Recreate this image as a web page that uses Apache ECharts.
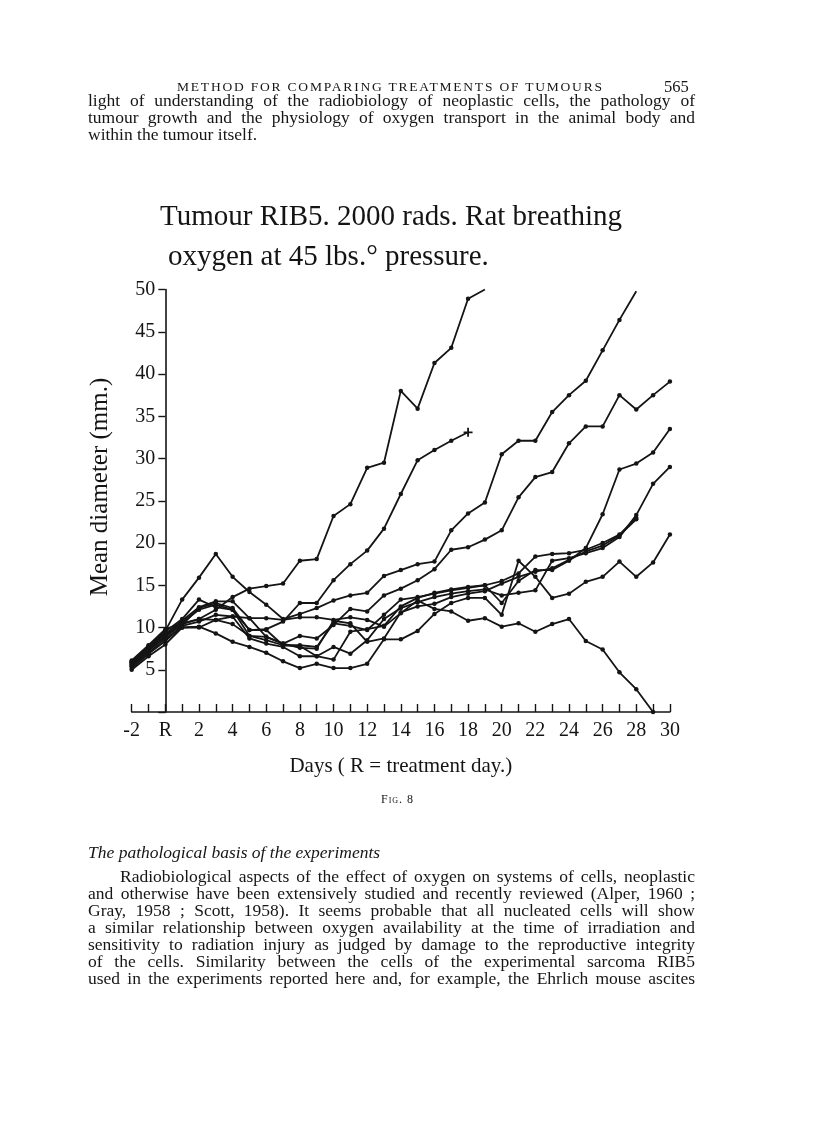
<!DOCTYPE html>
<html>
<head>
<meta charset="utf-8">
<script src="https://cdn.jsdelivr.net/npm/echarts@6/dist/echarts.min.js"></script>
<style>
  html,body{margin:0;padding:0;background:#fff;}
  #page{position:relative;width:816px;height:1136px;overflow:hidden;background:#fff;}
  #chart{position:absolute;left:0;top:0;width:816px;height:1136px;}
  .t{position:absolute;font-family:"Liberation Serif",serif;color:#161616;z-index:2;pointer-events:none;}
  .ln{font-size:17.5px;line-height:17px;text-align:justify;text-align-last:justify;}
</style>
</head>
<body>
<div id="page">
  <div id="chart"></div>
  <div class="t" style="left:177px;top:79px;font-size:13.5px;letter-spacing:1.8px;">METHOD FOR COMPARING TREATMENTS OF TUMOURS</div>
  <div class="t" style="left:664px;top:77px;font-size:16.5px;">565</div>
  <div class="t ln" style="left:88px;top:92px;width:607px;">light of understanding of the radiobiology of neoplastic cells, the pathology of</div>
  <div class="t ln" style="left:88px;top:109px;width:607px;">tumour growth and the physiology of oxygen transport in the animal body and</div>
  <div class="t" style="left:88px;top:126px;font-size:17.5px;line-height:17px;">within the tumour itself.</div>
  <div class="t" style="left:381px;top:792px;font-size:12px;font-variant:small-caps;letter-spacing:1px;">Fig. 8</div>
  <div class="t" style="left:88px;top:844px;font-size:17.5px;line-height:17px;font-style:italic;">The pathological basis of the experiments</div>
  <div class="t ln" style="left:120px;top:868px;width:575px;">Radiobiological aspects of the effect of oxygen on systems of cells, neoplastic</div>
  <div class="t ln" style="left:88px;top:885px;width:607px;">and otherwise have been extensively studied and recently reviewed (Alper, 1960 ;</div>
  <div class="t ln" style="left:88px;top:902px;width:607px;">Gray, 1958 ; Scott, 1958). It seems probable that all nucleated cells will show</div>
  <div class="t ln" style="left:88px;top:919px;width:607px;">a similar relationship between oxygen availability at the time of irradiation and</div>
  <div class="t ln" style="left:88px;top:936px;width:607px;">sensitivity to radiation injury as judged by damage to the reproductive integrity</div>
  <div class="t ln" style="left:88px;top:953px;width:607px;">of the cells. Similarity between the cells of the experimental sarcoma RIB5</div>
  <div class="t ln" style="left:88px;top:970px;width:607px;">used in the experiments reported here and, for example, the Ehrlich mouse ascites</div>
</div>
<script>
// ---- data (mean tumour diameter, mm; days -2 .. 30, R = day 0) ----
const days = [-2,-1,0,1,2,3,4,5,6,7,8,9,10,11,12,13,14,15,16,17,18,19,20,21,22,23,24,25,26,27,28,29,30];
const tumourA = [5.8,7.6,9.3,10.4,11.0,12.1,13.6,14.6,14.9,15.2,17.9,18.1,23.2,24.6,28.9,29.5,38.0,35.9,41.3,43.1,48.9,50.0,null,null,null,null,null,null,null,null,null,null,null];
const tumourB = [5.5,7.2,9.0,10.6,12.1,12.7,12.1,9.7,9.8,10.7,12.9,12.9,15.6,17.5,19.1,21.7,25.8,29.8,31.0,32.1,33.1,null,null,null,null,null,null,null,null,null,null,null,null];
const tumourC = [6.0,7.8,9.6,13.3,15.9,18.7,16.0,14.2,12.7,11.0,11.6,12.3,13.2,13.8,14.1,16.1,16.8,17.5,17.8,21.5,23.5,24.8,30.5,32.1,32.1,35.5,37.5,39.2,42.8,46.4,49.8,null,null];
const tumourD = [5.7,7.4,9.2,10.8,12.4,13.1,13.1,11.1,8.9,8.1,9.0,8.7,10.3,12.2,11.9,13.8,14.6,15.6,16.9,19.2,19.5,20.4,21.5,25.4,27.8,28.4,31.8,33.8,33.8,37.5,35.8,37.5,39.1];
const tumourE = [5.9,7.7,9.5,11.0,13.3,12.4,12.1,9.0,8.5,7.9,7.9,7.7,10.5,10.2,9.7,11.5,13.3,13.6,14.0,14.4,14.7,15.0,12.9,15.5,16.8,16.8,17.9,19.4,23.4,28.7,29.4,30.7,33.5];
const tumourF = [5.2,6.9,8.4,10.2,10.7,11.5,11.3,8.7,8.1,7.7,6.6,6.6,7.7,6.9,8.5,11.0,12.3,13.0,13.6,14.0,14.3,14.5,13.8,14.1,14.4,17.9,18.2,18.8,19.4,20.7,23.3,27.0,29.0];
const tumourG = [5.6,7.3,8.9,10.3,12.3,12.9,12.3,9.7,9.7,7.9,7.8,6.6,6.2,9.5,9.8,10.2,12.5,13.5,14.1,14.5,14.8,15.0,15.5,16.4,18.4,18.7,18.8,19.2,20.0,21.0,23.0,null,null];
const tumourH = [6.1,7.9,9.8,10.5,11.0,10.9,10.4,9.0,8.9,8.1,7.6,7.5,10.8,10.5,8.3,8.7,11.8,12.5,12.8,13.6,14.0,14.3,15.2,16.0,16.6,17.0,18.0,19.0,19.7,20.9,22.8,null,null];
const tumourJ = [5.4,7.0,8.7,10.0,10.0,10.9,11.3,11.1,11.1,10.9,11.2,11.2,10.9,11.2,10.9,10.1,11.7,13.2,12.2,11.9,10.8,11.1,10.1,10.5,9.5,10.4,11.0,8.4,7.4,4.7,2.7,0.0,null];
const tumourK = [5.0,6.6,8.0,10.0,10.1,9.3,8.3,7.7,7.0,6.0,5.2,5.7,5.2,5.2,5.7,8.6,8.6,9.6,11.6,12.9,13.5,13.5,11.5,17.9,16.0,13.5,14.0,15.4,16.0,17.8,16.0,17.7,21.0];
const yTicks = [0,5,10,15,20,25,30,35,40,45,50];

const titleLine1 = 'Tumour RIB5. 2000 rads. Rat breathing';
const titleLine2 = 'oxygen at 45 lbs.\u00B0 pressure.';
const xName = 'Days ( R = treatment day.)';
const yName = 'Mean diameter (mm.)';

// ---- styling of series ends (not data) ----
const allSeries = [
  {name:'A', v:tumourA, end:'none'},
  {name:'B', v:tumourB, end:'plus'},
  {name:'C', v:tumourC, end:'none'},
  {name:'D', v:tumourD},
  {name:'E', v:tumourE},
  {name:'F', v:tumourF},
  {name:'G', v:tumourG},
  {name:'H', v:tumourH},
  {name:'J', v:tumourJ},
  {name:'K', v:tumourK}
];
const PLUS = 'path://M4,0h2v4h4v2h-4v4h-2v-4h-4v-2h4z';
const INK = '#141414';
const FONT = '"Liberation Serif", serif';

// grid geometry: day -2 at x=131.7, day 30 at x=669.9 ; y 0 at 712, 50 at 289.5
const GRID_LEFT = 131.7, GRID_RIGHT_X = 669.9;
const pxPerDay = (GRID_RIGHT_X - GRID_LEFT) / (days[days.length - 1] - days[0]);
const yAxisShift = -(0 - days[0]) * pxPerDay; // move y axis to day 0 (R)

const series = allSeries.map(s => {
  const pts = [];
  days.forEach((d, i) => { if (s.v[i] != null) pts.push([d, s.v[i]]); });
  const data = pts.map((p, i) => {
    if (i === pts.length - 1 && s.end === 'none') return {value: p, symbol: 'none'};
    if (i === pts.length - 1 && s.end === 'plus') return {value: p, symbol: PLUS, symbolSize: 9};
    return p;
  });
  return {
    name: s.name, type: 'line', data: data,
    symbol: 'circle', symbolSize: 4.5, showSymbol: true,
    lineStyle: {color: INK, width: 1.8},
    itemStyle: {color: INK},
    emphasis: {disabled: true}, silent: true, animation: false, clip: false
  };
});

const chart = echarts.init(document.getElementById('chart'), null, {renderer: 'canvas'});
chart.setOption({
  backgroundColor: 'transparent',
  animation: false,
  title: [
    {text: titleLine1, left: 155, top: 198, textStyle: {fontFamily: FONT, fontSize: 29, fontWeight: 'normal', color: INK}},
    {text: titleLine2, left: 163, top: 238, textStyle: {fontFamily: FONT, fontSize: 29, fontWeight: 'normal', color: INK}}
  ],
  grid: {left: GRID_LEFT, right: 816 - GRID_RIGHT_X, top: 289.5, bottom: 424},
  xAxis: {
    type: 'value', min: -2, max: 30, interval: 1,
    axisLine: {onZero: false, lineStyle: {color: INK, width: 1.6}},
    axisTick: {inside: true, length: 8, lineStyle: {color: INK, width: 1.4}},
    axisLabel: {
      margin: 9, color: INK, fontFamily: FONT, fontSize: 20,
      formatter: v => v === 0 ? 'R' : (v % 2 === 0 ? String(v) : '')
    },
    splitLine: {show: false},
    name: xName, nameLocation: 'middle', nameGap: 44,
    nameTextStyle: {fontFamily: FONT, fontSize: 21, color: INK}
  },
  yAxis: {
    type: 'value', min: yTicks[0], max: yTicks[yTicks.length - 1], interval: 5,
    offset: yAxisShift,
    axisLine: {onZero: false, lineStyle: {color: INK, width: 1.6}},
    axisTick: {inside: false, length: 7, lineStyle: {color: INK, width: 1.4}},
    axisLabel: {
      margin: 10, color: INK, fontFamily: FONT, fontSize: 20,
      formatter: v => v === 0 ? '' : String(v)
    },
    splitLine: {show: false}
  },
  graphic: [{
    type: 'text', x: 100, y: 487, rotation: Math.PI / 2,
    style: {text: yName, fontFamily: FONT, fontSize: 25, fill: INK, align: 'center', verticalAlign: 'middle'}
  }],
  series: series
});
</script>
</body>
</html>
